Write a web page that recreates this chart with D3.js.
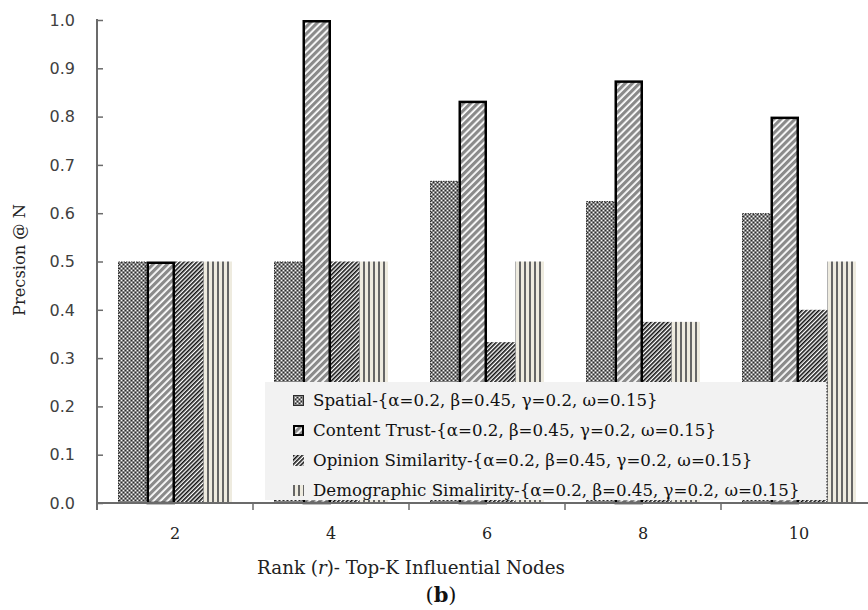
<!DOCTYPE html>
<html>
<head>
<meta charset="utf-8">
<script src="https://cdn.jsdelivr.net/npm/d3@7/dist/d3.min.js"></script>
<style>
  html, body { margin: 0; padding: 0; background: #fff; }
  svg { display: block; }
</style>
</head>
<body>
<svg id="chart" width="868" height="610"></svg>
<script>
// Top-K ranks on the x axis
const categories = ["2", "4", "6", "8", "10"];
// Series names and their Precision@N values per rank
const seriesNames = ["Spatial", "Content Trust", "Opinion Similarity", "Demographic Simalirity"];
const spatial     = [0.5, 0.5, 0.667, 0.625, 0.6];
const contentTrust = [0.5, 1.0, 0.833, 0.875, 0.8];
const opinion     = [0.5, 0.5, 0.333, 0.375, 0.4];
const demographic = [0.5, 0.5, 0.5, 0.375, 0.5];
const yTicks = [0, 0.1, 0.2, 0.3, 0.4, 0.5, 0.6, 0.7, 0.8, 0.9, 1.0];
const paramText = "-{α=0.2, β=0.45, γ=0.2, ω=0.15}";

const seriesValues = [spatial, contentTrust, opinion, demographic];

const svg = d3.select("#chart");
const plotLeft = 97, plotRight = 877, plotTop = 20, plotBottom = 503;
const serif = "'DejaVu Serif', 'Liberation Serif', serif";

const x0 = d3.scaleBand().domain(categories).range([plotLeft, plotRight]).padding(0);
const groupPad = 21;
const x1 = d3.scaleBand().domain(seriesNames)
  .range([groupPad, x0.bandwidth() - groupPad]).padding(0);
const y = d3.scaleLinear().domain([0, 1]).range([plotBottom, plotTop]);

// fit a text element's font size so it spans the given width
function fitWidth(sel, width) {
  const fs = +sel.attr("font-size");
  const w = sel.node().getComputedTextLength();
  sel.attr("font-size", fs * width / w);
}

// ---- fill patterns ----
const defs = svg.append("defs");

// Spatial: grey dotted checker
const pSp = defs.append("pattern").attr("id", "pSpatial")
  .attr("patternUnits", "userSpaceOnUse").attr("width", 4).attr("height", 4);
pSp.append("rect").attr("width", 4).attr("height", 4).attr("fill", "#858585");
[[0,0,"#f4f4f4"],[2,2,"#f4f4f4"],[2,0,"#2a2a2a"],[0,2,"#2a2a2a"]].forEach(([px,py,c]) =>
  pSp.append("rect").attr("x", px).attr("y", py).attr("width", 1).attr("height", 1).attr("fill", c));

// Content Trust: wide grey/white diagonal stripes
const pCt = defs.append("pattern").attr("id", "pContent")
  .attr("patternUnits", "userSpaceOnUse").attr("width", 5).attr("height", 5)
  .attr("patternTransform", "rotate(45)");
pCt.append("rect").attr("width", 5).attr("height", 5).attr("fill", "#ffffff");
pCt.append("rect").attr("width", 3.2).attr("height", 5).attr("fill", "#8a8a8a");

// Opinion Similarity: dense black/white diagonal hatch
const pOp = defs.append("pattern").attr("id", "pOpinion")
  .attr("patternUnits", "userSpaceOnUse").attr("width", 3).attr("height", 3)
  .attr("patternTransform", "rotate(45)");
pOp.append("rect").attr("width", 3).attr("height", 3).attr("fill", "#ffffff");
pOp.append("rect").attr("width", 1.6).attr("height", 3).attr("fill", "#111111");

// Demographic: vertical grey/cream stripes
const pDm = defs.append("pattern").attr("id", "pDemo")
  .attr("patternUnits", "userSpaceOnUse").attr("width", 5).attr("height", 5);
pDm.append("rect").attr("width", 5).attr("height", 5).attr("fill", "#eeebdf");
pDm.append("rect").attr("x", 0).attr("width", 2).attr("height", 5).attr("fill", "#666666");

const styles = [
  { fill: "url(#pSpatial)", stroke: "#2b2b2b", sw: 1, legSw: 1, dash: "1.5,1" },
  { fill: "url(#pContent)", stroke: "#000000", sw: 2.5, legSw: 2, dash: null },
  { fill: "url(#pOpinion)", stroke: "none", sw: 0, legSw: 0, dash: null },
  { fill: "url(#pDemo)", stroke: "none", sw: 0, legSw: 0, dash: null }
];

// ---- bars ----
const rows = categories.map((c, i) => ({
  cat: c,
  vals: seriesNames.map((s, k) => ({ s, k, v: seriesValues[k][i] }))
}));

const groups = svg.append("g").selectAll("g").data(rows).join("g")
  .attr("transform", d => `translate(${x0(d.cat)},0)`);

groups.selectAll("rect").data(d => d.vals).join("rect")
  .attr("x", d => x1(d.s) + styles[d.k].sw / 2)
  .attr("width", d => x1.bandwidth() - styles[d.k].sw)
  .attr("y", d => y(d.v) + styles[d.k].sw / 2)
  .attr("height", d => y(0) - y(d.v) - styles[d.k].sw / 2)
  .attr("fill", d => styles[d.k].fill)
  .attr("stroke", d => styles[d.k].stroke)
  .attr("stroke-width", d => styles[d.k].sw)
  .attr("stroke-dasharray", d => styles[d.k].dash);

// ---- legend (drawn over the lower part of the bars) ----
const legX = 265, legY = 382, legW = 562, legH = 118;
const leg = svg.append("g");
leg.append("rect").attr("x", legX).attr("y", legY).attr("width", legW).attr("height", legH)
  .attr("fill", "#f2f2f2");
leg.append("line").attr("x1", legX + legW).attr("x2", legX + legW)
  .attr("y1", legY).attr("y2", legY + legH)
  .attr("stroke", "#333").attr("stroke-width", 1.2).attr("stroke-dasharray", "1.5,1.5");

const legItems = leg.selectAll("g.item").data(seriesNames).join("g")
  .attr("class", "item")
  .attr("transform", (d, i) => `translate(293,${legY + 13 + i * 30})`);

legItems.append("rect")
  .attr("x", (d, i) => styles[i].legSw / 2)
  .attr("y", (d, i) => styles[i].legSw / 2)
  .attr("width", (d, i) => 11 - styles[i].legSw)
  .attr("height", (d, i) => 11 - styles[i].legSw)
  .attr("fill", (d, i) => styles[i].fill)
  .attr("stroke", (d, i) => styles[i].stroke)
  .attr("stroke-width", (d, i) => styles[i].legSw);

const legTexts = legItems.append("text")
  .attr("x", 20).attr("y", 10.5)
  .attr("font-family", serif)
  .attr("font-size", 16)
  .attr("fill", "#111")
  .text(d => d + paramText);

// size the legend font so the longest entry spans its box
const longest = d3.max(legTexts.nodes(), n => n.getComputedTextLength());
legTexts.attr("font-size", 16 * 487 / longest);

// ---- axes ----
const axisColor = "#6b6b6b";
const yAxis = svg.append("g").attr("transform", `translate(${plotLeft},0)`)
  .call(d3.axisRight(y).tickValues(yTicks).tickSize(6).tickFormat(""));
yAxis.select(".domain").attr("stroke", axisColor).attr("stroke-width", 2)
  .attr("d", `M0,${y(1) - 1}V${plotBottom + 3}`);
yAxis.selectAll(".tick line").attr("stroke", axisColor).attr("stroke-width", 1.5);

svg.append("g").selectAll("text").data(yTicks).join("text")
  .attr("x", 75).attr("y", d => y(d))
  .attr("dy", "0.36em")
  .attr("text-anchor", "end")
  .attr("font-family", "'DejaVu Sans', Verdana, sans-serif")
  .attr("font-size", 16)
  .attr("fill", "#404040")
  .text(d => d3.format(".1f")(d));

const xAxis = svg.append("g").attr("transform", `translate(0,${plotBottom})`);
xAxis.append("line").attr("x1", plotLeft - 1).attr("x2", plotRight).attr("y1", 0).attr("y2", 0)
  .attr("stroke", axisColor).attr("stroke-width", 2);
xAxis.selectAll("line.tk").data(categories.slice(1)).join("line")
  .attr("class", "tk")
  .attr("x1", d => x0(d)).attr("x2", d => x0(d))
  .attr("y1", 0).attr("y2", 7)
  .attr("stroke", axisColor).attr("stroke-width", 1.5);
xAxis.append("line").attr("x1", plotLeft).attr("x2", plotLeft).attr("y1", 0).attr("y2", 7)
  .attr("stroke", axisColor).attr("stroke-width", 2);

svg.append("g").selectAll("text").data(categories).join("text")
  .attr("x", d => x0(d) + x0.bandwidth() / 2)
  .attr("y", 539)
  .attr("text-anchor", "middle")
  .attr("font-family", serif)
  .attr("font-size", 16)
  .attr("fill", "#222")
  .text(d => d);

// ---- titles ----
const xt = svg.append("text")
  .attr("x", 411).attr("y", 574)
  .attr("text-anchor", "middle")
  .attr("font-family", serif)
  .attr("font-size", 15)
  .attr("fill", "#222");
xt.append("tspan").text("Rank (");
xt.append("tspan").attr("font-style", "italic").text("r");
xt.append("tspan").text(")- Top-K Influential Nodes");
fitWidth(xt, 308);

svg.append("text")
  .attr("x", 441).attr("y", 602)
  .attr("text-anchor", "middle")
  .attr("font-family", serif)
  .attr("font-size", 21)
  .attr("fill", "#111")
  .html("(<tspan font-weight='bold'>b</tspan>)");

const yt = svg.append("text")
  .attr("transform", "translate(25,260) rotate(-90)")
  .attr("text-anchor", "middle")
  .attr("font-family", serif)
  .attr("font-size", 14)
  .attr("fill", "#222")
  .text("Precsion @ N");
fitWidth(yt, 112);
</script>
</body>
</html>
